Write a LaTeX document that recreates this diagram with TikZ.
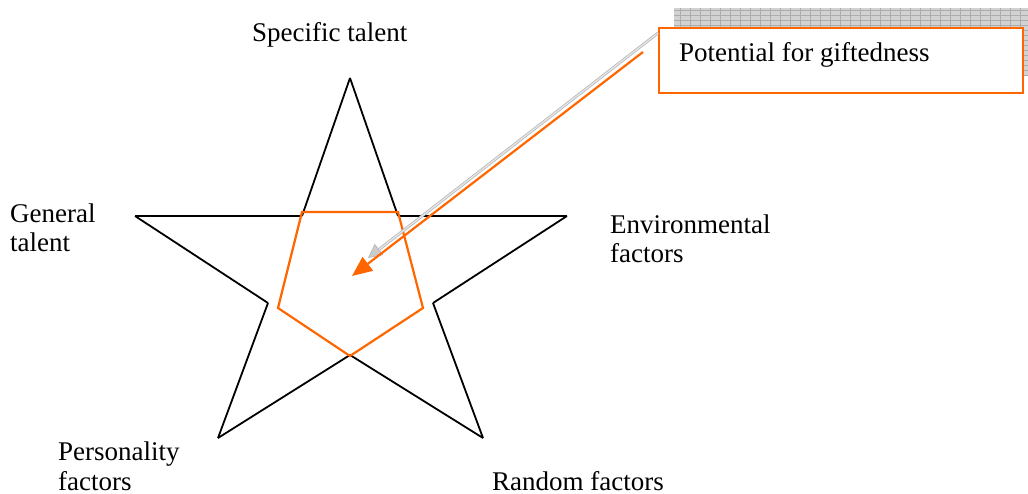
\documentclass[tikz,border=0pt]{standalone}
\usepackage{fontspec}
\setmainfont{Liberation Serif}
\usetikzlibrary{arrows.meta}
\definecolor{giftorange}{HTML}{FF6600}

\begin{document}
\begin{tikzpicture}
  [x=1pt,y=-1pt,
   label/.style={anchor=base west,inner sep=0pt,align=left,font=\fontsize{27}{29.5}\selectfont},
   starline/.style={black,line width=1.8pt,line join=miter},
   pentline/.style={giftorange,line width=2.2pt},
   giftbox/.style={draw=giftorange,line width=2pt,fill=white,inner sep=0pt,anchor=north west,minimum width=364pt,minimum height=65pt}]
  \useasboundingbox (0,0) rectangle (1028,494);

  % star
  \coordinate (t) at (350,78);
  \coordinate (l) at (135,216);
  \coordinate (r) at (567,216);
  \coordinate (bl) at (218,438);
  \coordinate (br) at (483,438);
  \coordinate (ia) at (302,216);
  \coordinate (ib) at (398,216);
  \coordinate (ic) at (433,303);
  \coordinate (id) at (350,355);
  \coordinate (ie) at (268,303);
  \foreach \from/\to in {t/ib, ib/r, r/ic, ic/br, br/id, id/bl, bl/ie, ie/l, l/ia, ia/t}
    \draw[starline] (\from) -- (\to);

  % inner pentagon
  \coordinate (p1) at (302,212);
  \coordinate (p2) at (398,212);
  \coordinate (p3) at (423,308);
  \coordinate (p4) at (350,356);
  \coordinate (p5) at (278,308);
  \draw[pentline,line join=miter] (p1) -- (p2) -- (p3) -- (p4) -- (p5) -- cycle;

  % box with shadow
  \begin{scope}
    \clip (0,0) rectangle (1028,494);
    \fill[gray!35] (674,8) rectangle (1040,75);
    \draw[gray!65,line width=0.4pt,xstep=10pt,ystep=5pt] (674,8) grid (1040,75);
  \end{scope}
  \node[giftbox] (box) at (658,27) {};
  \node[label] (pot) at (679,62) {Potential for giftedness};

  % labels (multi-line ones sit on their last line)
  \node[label] (spec) at (252,42) {Specific talent};
  \node[label] (gen) at (10,252) {General\\talent};
  \node[label] (env) at (610,263) {Environmental\\factors};
  \node[label] (pers) at (58,490) {Personality\\factors};
  \node[label] (rand) at (492,490) {Random factors};

  % arrows
  \coordinate (gstart) at (658,33);
  \coordinate (gend) at (368,258);
  \coordinate (ostart) at (643,52);
  \coordinate (centre) at (352,276);
  \draw[draw=gray!60,double=gray!20,double distance=1.4pt,line width=0.7pt,
        -{Triangle[length=14pt,width=14pt,fill=gray!40,color=gray!55]}] (gstart) -- (gend);
  \draw[giftorange,line width=2.2pt,-{Triangle[length=20pt,width=17pt]}] (ostart) -- (centre);
\end{tikzpicture}
\end{document}
